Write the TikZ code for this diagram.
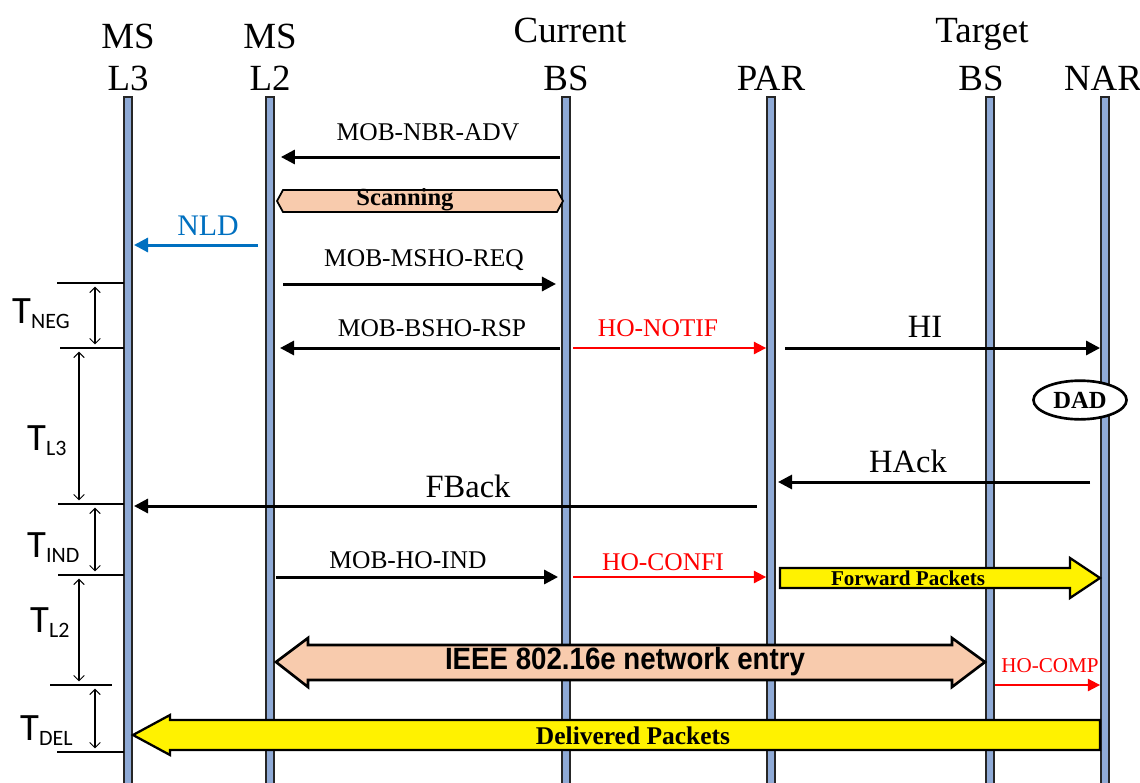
\documentclass[tikz,border=0pt]{standalone}
\usepackage{fontspec}
\setmainfont{Liberation Serif}
\newfontfamily\calibrifont{Carlito}
\newfontfamily\narrowsans[FakeStretch=0.9]{Liberation Sans}
\usetikzlibrary{arrows.meta, positioning, calc, shapes.geometric}
\definecolor{lifeblue}{RGB}{143,170,214}
\definecolor{peach}{RGB}{248,203,173}
\definecolor{nldblue}{RGB}{0,112,192}
\tikzset{
    lifeline/.style = {draw=black!85, line width=1.2pt, fill=lifeblue},
    msg/.style = {-{Triangle[length=8pt, width=8pt]}, line width=1.7pt},
    redmsg/.style = {-{Triangle[length=7pt, width=7pt]}, line width=1.1pt, red},
    timer/.style = {{Straight Barb[length=3pt, width=6pt]}-{Straight Barb[length=3pt, width=6pt]}, line width=0.6pt, shorten <=2pt, shorten >=2pt},
    tick/.style = {line width=1.3pt},
    head/.style = {font=\fontsize{21}{21}\selectfont, anchor=base, inner sep=0},
    lbl/.style = {font=\fontsize{14.5}{16}\selectfont, anchor=base, inner sep=0},
    big/.style = {font=\fontsize{18.5}{20}\selectfont, anchor=base, inner sep=0},
    tlbl/.style = {font=\calibrifont\fontsize{22}{22}\selectfont, anchor=base west, inner sep=0},
    block/.style = {draw=black, line width=1.3pt, line join=miter}
}
\newcommand{\tsub}[1]{T\raisebox{-3pt}{\fontsize{12.5}{12.5}\selectfont #1}}

\begin{document}
\begin{tikzpicture}[x=0.02cm, y=-0.02cm]
\useasboundingbox (0,0) rectangle (1140,782);

% Lifelines
\foreach \n/\x in {L3/128, L2/270, CBS/566, PAR/771, TBS/990, NAR/1105} {
    \draw[lifeline] (\x-4,97) rectangle (\x+4,790);
    \coordinate (\n) at (\x,97);
}

% Headers
\node[head] (msa) at (128,48) {MS};
\node[head] (msb) at (128,90) {L3};
\node[head] (mta) at (270,48) {MS};
\node[head] (mtb) at (270,90) {L2};
\node[head] (cura) at (570,42) {Current};
\node[head] (curb) at (566,90) {BS};
\node[head] (parb) at (771,90) {PAR};
\node[head] (tara) at (982,42) {Target};
\node[head] (tarb) at (981,90) {BS};
\node[head] (narb) at (1103,90) {NAR};

% Rows
\coordinate (nbr) at (0,157);
\coordinate (nld) at (0,245);
\coordinate (msho) at (0,284);
\coordinate (bsho) at (0,348);
\coordinate (hack) at (0,482);
\coordinate (fback) at (0,506);
\coordinate (hoind) at (0,577);
\coordinate (comp) at (0,685);

% Messages
\draw[msg] ([xshift=-3.4pt]CBS |- nbr) -- ([xshift=6.2pt]L2 |- nbr);
\node[lbl] (nbrlbl) at (428,140) {MOB-NBR-ADV};

\draw[block, fill=peach, line width=1pt] (277,201) -- (283,190) -- (557,190) -- (563,201) -- (557,212) -- (283,212) -- cycle;
\node[font=\bfseries\fontsize{14}{14}\selectfont, inner sep=0] (scan) at (405,200) {Scanning};

\draw[msg, nldblue] ([xshift=-6.8pt]L2 |- nld) -- ([xshift=3.4pt]L3 |- nld);
\node[lbl, nldblue, font=\fontsize{17}{17}\selectfont] (nldlbl) at (208,235) {NLD};

\draw[msg] ([xshift=7.4pt]L2 |- msho) -- ([xshift=-5.7pt]CBS |- msho);
\node[lbl] (msholbl) at (424,266) {MOB-MSHO-REQ};

\draw[msg] ([xshift=-3.4pt]CBS |- bsho) -- ([xshift=5.7pt]L2 |- bsho);
\node[lbl] (bsholbl) at (432,336) {MOB-BSHO-RSP};

\draw[redmsg] ([xshift=4pt]CBS |- bsho) -- ([xshift=-2.8pt]PAR |- bsho);
\node[lbl, red] (notiflbl) at (658,336) {HO-NOTIF};

\draw[msg] ([xshift=8pt]PAR |- bsho) -- ([xshift=-2.8pt]NAR |- bsho);
\node[big] (hilbl) at (925,337) {HI};

\node[ellipse, draw, line width=1.5pt, fill=white, minimum width=53pt, minimum height=22pt, inner sep=0, font=\bfseries\fontsize{14}{14}\selectfont] (dad) at (1080,400) {DAD};

\draw[msg] ([xshift=-8.5pt]NAR |- hack) -- ([xshift=4pt]PAR |- hack);
\node[big] (hacklbl) at (908,472) {HAck};

\draw[msg] ([xshift=-8pt]PAR |- fback) -- ([xshift=3.4pt]L3 |- fback);
\node[big] (fbacklbl) at (468,497) {FBack};

\draw[msg] ([xshift=3.4pt]L2 |- hoind) -- ([xshift=-4.5pt]CBS |- hoind);
\node[lbl] (hoindlbl) at (408,568) {MOB-HO-IND};

\draw[redmsg] ([xshift=4pt]CBS |- hoind) -- ([xshift=-2.8pt]PAR |- hoind);
\node[lbl, red] (confilbl) at (663,570) {HO-CONFI};

% Forward packets
\draw[block, fill=yellow] (780,568) -- (1070,568) -- (1070,558) -- (1100,578) -- (1070,598) -- (1070,588) -- (780,588) -- cycle;
\node[font=\bfseries\fontsize{12}{12}\selectfont, inner sep=0] (fwd) at (908,578) {Forward Packets};

% Network entry
\draw[block, fill=peach, line width=1.5pt] (276,662) -- (308,638) -- (308,645) -- (952,645) -- (952,638) -- (985,662) -- (952,687) -- (952,680) -- (308,680) -- (308,687) -- cycle;
\node[font=\narrowsans\bfseries\fontsize{17.5}{17.5}\selectfont, inner sep=0] (entry) at (625,662) {IEEE 802.16e network entry};

\draw[redmsg] ([xshift=2.8pt]TBS |- comp) -- ([xshift=-2.8pt]NAR |- comp);
\node[lbl, red, font=\fontsize{12}{12}\selectfont] (complbl) at (1050,672) {HO-COMP};

% Delivered packets
\draw[block, fill=yellow] (1100,720) -- (170,720) -- (170,715) -- (133,735) -- (170,755) -- (170,750) -- (1100,750) -- cycle;
\node[font=\bfseries\fontsize{14.5}{14.5}\selectfont, inner sep=0] (deliv) at (633,736) {Delivered Packets};

% Timing
\foreach \n/\a/\y in {k1/57/283, k2/60/348, k3/58/504, k4/58/575, k5/50/685, k6/57/752} {
    \coordinate (\n) at (\a,\y);
}
\foreach \n in {k1, k2, k3, k4, k6} {
    \draw[tick] (\n) -- ([xshift=-2.5pt]L3 |- \n);
}
\draw[tick] (k5) -- ++(62,0);
\coordinate (ca) at (95,0);
\coordinate (cb) at (79,0);
\draw[timer] (ca |- k1) -- (ca |- k2);
\draw[timer] (cb |- k2) -- (cb |- k3);
\draw[timer] (ca |- k3) -- (ca |- k4);
\draw[timer] (cb |- k4) -- (cb |- k5);
\draw[timer] (ca |- k5) -- (ca |- k6);
\node[tlbl] (tneg) at (12,323) {\tsub{NEG}};
\node[tlbl] (tlthree) at (27,450) {\tsub{L3}};
\node[tlbl] (tind) at (27,557) {\tsub{IND}};
\node[tlbl] (tltwo) at (30,632) {\tsub{L2}};
\node[tlbl] (tdel) at (20,740) {\tsub{DEL}};
\end{tikzpicture}
\end{document}
